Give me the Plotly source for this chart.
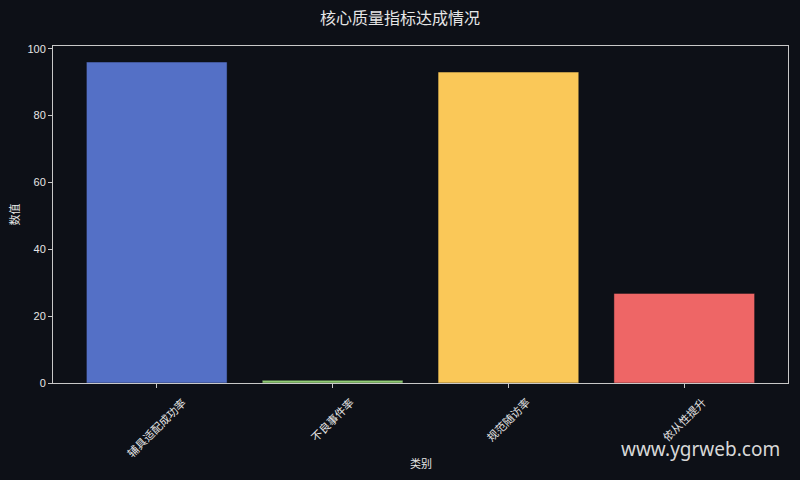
import plotly.graph_objects as go

# Chart data
categories = ['辅具适配成功率', '不良事件率', '规范随访率', '依从性提升']
values = [96, 0.8, 93, 26.8]
bar_colors = ['#5470C6', '#91CC75', '#FAC858', '#EE6666']

BG = '#0d1017'
FG = '#e6e6e6'
SPINE = '#c8c8c8'
FONT = 'Liberation Sans, Noto Sans CJK SC, sans-serif'

fig = go.Figure()

fig.add_trace(
    go.Bar(
        x=categories,
        y=values,
        marker=dict(
            color=bar_colors,
            line=dict(color='rgba(13,16,23,0.45)', width=1),
        ),
        width=0.8,
        hoverinfo='x+y',
    )
)

axis_common = dict(
    showline=True,
    linecolor=SPINE,
    linewidth=1,
    mirror=True,
    showgrid=False,
    zeroline=False,
    automargin=False,
    ticks='outside',
    ticklen=4,
    tickwidth=1,
    tickcolor=SPINE,
    tickfont=dict(family=FONT, size=11, color=FG),
)

# x tick labels drawn as rotated annotations so they sit centred under each tick
fig.update_xaxes(
    **axis_common,
    range=[-0.59, 3.59],
    showticklabels=False,
)
fig.update_yaxes(
    **axis_common,
    range=[0, 100.8],
    tickvals=[0, 20, 40, 60, 80, 100],
    title=dict(text='数值', font=dict(family=FONT, size=11, color=FG), standoff=5),
)

for cat in categories:
    fig.add_annotation(
        text=cat,
        x=cat, xref='x',
        y=-0.03, yref='paper',
        xanchor='center', yanchor='top',
        textangle=-45,
        showarrow=False,
        font=dict(family=FONT, size=11, color=FG),
    )

# x axis title
fig.add_annotation(
    text='类别',
    xref='paper', yref='paper',
    x=0.5, y=-0.238,
    xanchor='center', yanchor='middle',
    showarrow=False,
    font=dict(family=FONT, size=11, color=FG),
)

# Watermark
fig.add_annotation(
    text='www.ygrweb.com',
    xref='paper', yref='paper',
    x=0.9925, y=-0.195,
    xanchor='right', yanchor='middle',
    showarrow=False,
    font=dict(family='Noto Sans, sans-serif', size=19, color='#d8d8d8'),
)

fig.update_layout(
    width=800,
    height=480,
    paper_bgcolor=BG,
    plot_bgcolor=BG,
    showlegend=False,
    margin=dict(l=53, r=12, t=46, b=97),
    title=dict(
        text='核心质量指标达成情况',
        x=0.5, xanchor='center',
        y=0.962, yanchor='middle',
        font=dict(family=FONT, size=16, color=FG),
    ),
    font=dict(family=FONT, color=FG),
)

fig.write_html(
    'out.html',
    config={'displayModeBar': False},
    post_script="document.body.style.margin='0';document.body.style.overflow='hidden';",
)
